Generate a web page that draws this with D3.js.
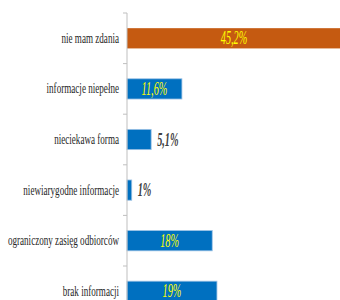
<!DOCTYPE html>
<html>
  <head>
    <meta charset="utf-8">
    <script src="https://d3js.org/d3.v7.min.js"></script>
    <style>
      body { margin: 0; background: #fff; }
    </style>
  </head>
  <body>
    <script>
      var categories = ["nie mam zdania", "informacje niepełne", "nieciekawa forma",
                        "niewiarygodne informacje", "ograniczony zasięg odbiorców", "brak informacji"];
      var values = [45.2, 11.6, 5.1, 1, 18, 19];
      var labels = ["45,2%", "11,6%", "5,1%", "1%", "18%", "19%"];
      var highlight = "nie mam zdania";

      var width = 340, height = 300;
      var left = 127;

      var svg = d3.select("body").append("svg")
          .attr("width", width)
          .attr("height", height);

      var y = d3.scaleBand()
          .domain(categories)
          .range([13, 13 + 6 * 50.6])
          .paddingInner(0.6)
          .paddingOuter(0.3);

      var x = d3.scaleLinear()
          .domain([0, 45.2])
          .range([left, 341]);

      var data = categories.map((c, i) => ({cat: c, val: values[i], lab: labels[i]}));

      // bars
      svg.selectAll("rect.bar")
        .data(data)
        .enter().append("rect")
          .attr("class", "bar")
          .attr("x", x(0))
          .attr("y", d => y(d.cat))
          .attr("width", d => x(d.val) - x(0))
          .attr("height", y.bandwidth())
          .style("fill", d => d.cat == highlight ? "#C55A11" : "#0070C0")
          .style("stroke", d => d.cat == highlight ? "none" : "#9cc2e5")
          .style("stroke-width", 0.8);

      // axis line + ticks at band edges
      var step = y.step();
      svg.append("line")
          .attr("x1", left).attr("x2", left)
          .attr("y1", y(categories[0]) - step * 0.3)
          .attr("y2", height)
          .style("stroke", "#bfbfbf");
      svg.selectAll("line.tick")
        .data(categories)
        .enter().append("line")
          .attr("class", "tick")
          .attr("x1", left - 4).attr("x2", left)
          .attr("y1", d => y(d) - step * 0.3)
          .attr("y2", d => y(d) - step * 0.3)
          .style("stroke", "#bfbfbf");

      // category labels (condensed serif)
      svg.selectAll("text.cat")
        .data(data)
        .enter().append("text")
          .attr("class", "cat")
          .attr("transform", d => "translate(" + (left - 8) + "," + (y(d.cat) + y.bandwidth() / 2 + 4.5) + ") scale(0.65,1)")
          .attr("text-anchor", "end")
          .style("font-family", "Liberation Serif")
          .style("font-size", "14px")
          .style("fill", "#262626")
          .text(d => d.cat);

      // value labels
      svg.selectAll("text.val")
        .data(data)
        .enter().append("text")
          .attr("class", "val")
          .attr("transform", d => {
            var cy = y(d.cat) + y.bandwidth() / 2 + 6;
            var cx = d.val > 10 ? (x(0) + x(d.val)) / 2 : x(d.val) + 6;
            return "translate(" + cx + "," + cy + ") scale(0.57,1)";
          })
          .attr("text-anchor", d => d.val > 10 ? "middle" : "start")
          .style("font-family", "Liberation Serif")
          .style("font-style", "italic")
          .style("font-weight", d => d.val > 10 ? "normal" : "bold")
          .style("font-size", "18px")
          .style("fill", d => d.val > 10 ? "#FFFF00" : "#404040")
          .text(d => d.lab);
    </script>
  </body>
</html>
